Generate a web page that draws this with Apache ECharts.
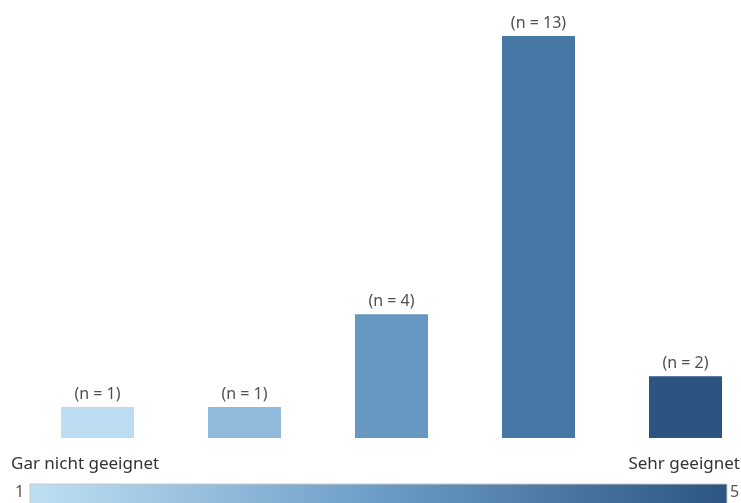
<!DOCTYPE html>
<html>
<head>
<meta charset="utf-8">
<script src="https://cdn.jsdelivr.net/npm/echarts@6/dist/echarts.min.js"></script>
<style>
  html, body { margin: 0; padding: 0; background: #ffffff; }
  #chart { width: 741px; height: 503px; }
</style>
</head>
<body>
<div id="chart"></div>
<script>
// Rating levels from 1 (not suitable) to 5 (very suitable)
const categories = ['1', '2', '3', '4', '5'];
const counts = [1, 1, 4, 13, 2];
const scaleLow = 'Gar nicht geeignet';
const scaleHigh = 'Sehr geeignet';
const scaleMin = '1';
const scaleMax = '5';

const barColors = ['#bcddf1', '#8fbadb', '#6698c2', '#4677a5', '#2b5580'];
const FONT = '"Noto Sans", sans-serif';

const chart = echarts.init(document.getElementById('chart'), null, { renderer: 'canvas' });

chart.setOption({
  animation: false,
  backgroundColor: '#ffffff',
  grid: { left: 24, right: -18, top: 36, bottom: 65, containLabel: false, outerBoundsMode: 'none' },
  xAxis: {
    type: 'category',
    data: categories,
    axisLine: { show: false },
    axisTick: { show: false },
    axisLabel: { show: false },
    splitLine: { show: false }
  },
  yAxis: {
    type: 'value',
    min: 0,
    max: 13,
    show: false
  },
  series: [{
    type: 'bar',
    barWidth: 73,
    data: counts.map((v, i) => ({ value: v, itemStyle: { color: barColors[i] } })),
    label: {
      show: true,
      position: 'top',
      distance: 5,
      formatter: p => '(n = ' + p.value + ')',
      color: '#505050',
      fontFamily: FONT,
      fontSize: 16
    }
  }],
  graphic: [
    {
      type: 'text', left: 11, top: 456,
      style: { text: scaleLow, fill: '#333333', font: '17px ' + FONT }
    },
    {
      type: 'text', right: 1, top: 456,
      style: { text: scaleHigh, fill: '#333333', font: '17px ' + FONT, textAlign: 'right' }
    },
    {
      type: 'text', left: 15, top: 484,
      style: { text: scaleMin, fill: '#555555', font: '16px ' + FONT }
    },
    {
      type: 'text', left: 730, top: 484,
      style: { text: scaleMax, fill: '#555555', font: '16px ' + FONT }
    },
    {
      type: 'rect',
      shape: { x: 30, y: 484, width: 697, height: 22 },
      style: {
        stroke: '#c8c8c8',
        lineWidth: 1,
        fill: new echarts.graphic.LinearGradient(0, 0, 1, 0, [
          { offset: 0, color: '#bfe0f3' },
          { offset: 0.5, color: '#6c9dc6' },
          { offset: 1, color: '#2b5580' }
        ])
      }
    }
  ]
});
</script>
</body>
</html>
